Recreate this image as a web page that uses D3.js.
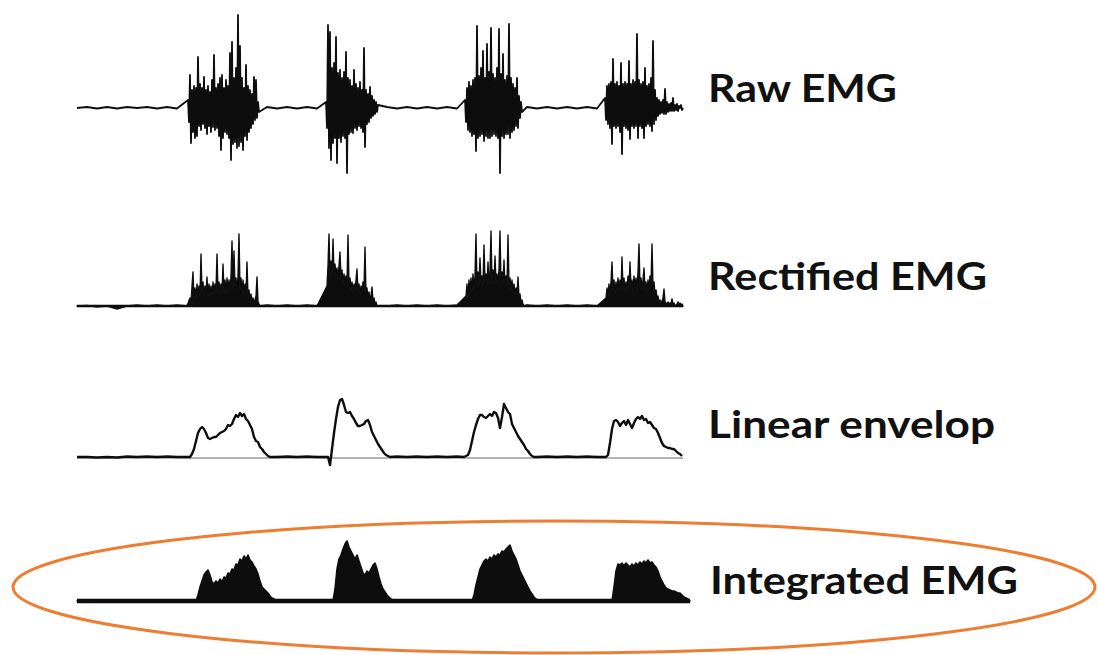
<!DOCTYPE html>
<html>
<head>
<meta charset="utf-8">
<script src="https://cdn.jsdelivr.net/npm/d3@7"></script>
<style>
  html, body { margin: 0; padding: 0; background: #fff; }
  svg { display: block; }
  .label { font-family: "Lato", "Open Sans", sans-serif; font-weight: 700; fill: #111; }
</style>
</head>
<body>
<svg id="chart" width="1098" height="655"></svg>
<script>
// ---------------------------------------------------------------
// EMG processing stages: raw, rectified, linear envelope, integrated.
// Time in ms, amplitude in µV.
// ---------------------------------------------------------------

const traceLabels = ["Raw EMG", "Rectified EMG", "Linear envelop", "Integrated EMG"];

const recordLength = 3030;   // ms
const quietStep = 50;        // ms between baseline samples
const rawStep = 5;           // ms between burst samples (raw / rectified)
const smoothStep = 10;       // ms between burst samples (envelope / integrated)

// --- Raw EMG ----------------------------------------------------
const rawOnsets = [555, 1245, 1940, 2640];
const rawQuiet = [0,10,-5,10,-5,10,0,10,-5,10,-5,5, 0,0,0,0,0,0,0,
  10,-5,10,-5,10,-5, 0,0,0,0,0,0, 10,-5,10,-5,10,-5,10,-5, 0,0,0,0,0,0,
  10,-5,10,-5,10,-5,10,-5, 0,0,0,0,0,0,0,0];
const rawBurst1 = [80,-140,330,-350,180,-240,220,-300,200,-280,510,-180,240,-220,200,-160,310,-200,180,-260,
  220,-180,160,-240,280,-190,530,-220,200,-200,240,-280,300,-420,330,-300,200,-240,280,-260,
  220,-300,550,-520,660,-360,300,-340,400,-400,930,-380,620,-340,300,-420,200,-280,430,-320,
  220,-240,180,-200,140,-160,310,-120,280,-100,60,-40];
const rawBurst2 = [60,-200,830,-400,760,-520,400,-350,450,-300,710,-550,350,-300,380,-340,300,-280,360,-300,
  560,-650,300,-260,280,-240,220,-250,380,-200,240,-220,200,-180,260,-200,180,-240,600,-390,
  180,-160,140,-140,210,-100,120,-80,80,-60,60,-40,30];
const rawBurst3 = [80,-140,200,-220,260,-240,220,-280,280,-260,300,-430,820,-300,320,-280,400,-260,570,-330,
  300,-280,640,-300,360,-300,800,-280,340,-260,300,-280,400,-300,790,-650,340,-280,540,-300,
  280,-260,320,-260,840,-300,300,-240,240,-220,200,-180,300,-200,120,-100,60,-40];
const rawBurst4 = [100,-120,220,-160,240,-200,260,-360,490,-180,240,-200,260,-180,220,-240,450,-460,240,-180,
  260,-200,240,-220,470,-310,240,-180,280,-200,260,-180,740,-300,280,-180,240,-200,260,-300,
  400,-180,220,-160,240,-180,300,-230,670,-160,180,-120,100,-80,80,-60,60,-50,80,-60,
  190,-60,60,-40,40,-30,50,-30,100,-30,30,-20,40,-30,20,0,30,-20,0];

// --- Rectified EMG ----------------------------------------------
const rectOnsets = [565, 1250, 1945, 2645];
const rectQuiet = [0,5,-10,0,-30,0,10,0,10,0,10,0, 0,0,0,0,0,0,0,
  10,0,10,0,10,0, 0,0,0,0,0,0, 0,10,0,10,0,10,0,10, 0,0,0,0,0,0,
  10,0,10,0,10,0,10,0, 0,0,0,0,0,0,0,0];
const rectBurst1 = [80,30,200,340,60,180,80,220,100,200, 90,520,120,240,100,200,120,290,80,220,
  120,200,100,240,120,220,140,520,120,240, 140,220,120,420,140,260,120,280,160,260,
  140,300,650,160,550,180,280,140,300,720, 160,280,140,260,120,220,100,440,80,160,
  60,120,40,80,30,60,100,290,40,20, 0];
const rectBurst2 = [200,400,720,300,450,280,670,320,420,300, 380,260,400,540,280,360,220,320,240,300,
  200,710,220,280,160,240,140,220,160,260, 370,140,220,120,200,140,240,160,590,120,
  180,80,140,60,100,190,40,80,20,40, 0];
const rectBurst3 = [100,220,80,260,120,280,140,320,160,300, 720,180,340,200,480,220,300,200,610,240,
  320,200,440,220,340,750,220,360,200,500, 240,320,220,360,750,240,340,220,460,200,
  300,180,710,200,280,160,260,140,220,120, 180,100,290,80,120,40,60,20,0];
const rectBurst4 = [80,180,100,220,120,240,440,140,260,120, 240,140,280,160,260,140,490,160,280,140,
  240,160,300,180,440,160,260,140,300,180, 280,160,340,620,180,280,160,260,380,160,
  240,140,260,160,300,200,620,180,240,120, 160,80,100,40,60,30,50,80,170,40,
  30,20,40,20,30,20,70,20,30,10, 0,20,40,20,30,10,20,0];

// --- Linear envelope --------------------------------------------
const envOnsets = [565, 1245, 1935, 2645];
const envQuiet = [0,0,-5,0,-5,5,0,5,0,5,0,0, 0,0,0,0,0,0,0,
  5,0,5,0,5,0, 0,0,0,0,0,0, 0,5,0,5,0,5,0,5, 0,0,0,0,0,0,
  5,0,5,0,5,0,5,0, 0,0,0,0,0,0,0,0];
const envBurst1 = [0,30,80,160,240,280,300,280,240,190,180,190,200,200,220,240,250,260,280,320,
  310,330,380,420,400,440,410,430,380,360,320,280,200,160,150,100,80,50,30,10,0];
const envBurst2 = [0,0,-80,80,240,380,500,570,580,520,450,440,450,410,380,340,310,310,320,330,
  360,370,320,250,210,170,130,100,70,40,20,10,0];
const envBurst3 = [0,10,20,70,160,250,320,380,420,420,400,390,410,430,410,450,440,390,290,400,
  530,490,450,430,330,290,250,210,180,150,120,80,60,30,10,0];
const envBurst4 = [0,20,140,280,360,370,350,310,340,360,320,370,330,290,340,380,400,380,410,370,
  380,340,350,320,290,280,240,190,140,110,100,90,90,80,80,60,40,30,10];

// --- Integrated EMG ---------------------------------------------
const intOnsets = [595, 1280, 1975, 2675];
const intQuiet = new Array(61).fill(0);
const intBurst1 = [0,60,140,200,260,290,310,260,190,170,200,180,220,190,240,230,280,270,320,310,
  370,360,420,400,450,420,460,410,390,350,320,270,200,140,120,100,80,50,30,20,10,0];
const intBurst2 = [0,120,320,420,460,520,570,600,540,500,460,420,460,400,340,280,260,300,280,320,
  360,380,320,240,170,120,90,60,40,20,10,0];
const intBurst3 = [0,60,160,240,320,360,400,420,400,440,420,460,440,470,460,500,490,520,540,560,
  500,460,420,360,300,260,220,180,140,100,70,40,20,10,0];
const intBurst4 = [0,140,300,370,360,380,350,380,360,340,370,350,380,360,390,370,400,380,410,380,
  390,360,340,300,240,200,160,130,120,110,100,100,90,80,80,60,40,30,20,0];

// ---------------------------------------------------------------
// Combine quiet baseline samples with burst samples into one series
function compose(quiet, onsets, bursts, step) {
  const spans = onsets.map((o, i) => [o, o + (bursts[i].length - 1) * step]);
  const pts = [];
  quiet.forEach((v, k) => {
    const t = k * quietStep;
    if (!spans.some(([a, b]) => t >= a - 10 && t <= b + 10)) pts.push([t, v]);
  });
  bursts.forEach((b, i) => b.forEach((v, j) => pts.push([onsets[i] + j * step, v])));
  return pts.sort((a, b) => a[0] - b[0]);
}

const rawSeries  = compose(rawQuiet,  rawOnsets,  [rawBurst1, rawBurst2, rawBurst3, rawBurst4], rawStep);
const rectSeries = compose(rectQuiet, rectOnsets, [rectBurst1, rectBurst2, rectBurst3, rectBurst4], rawStep);
const envSeries  = compose(envQuiet,  envOnsets,  [envBurst1, envBurst2, envBurst3, envBurst4], smoothStep);
const intSeries  = compose(intQuiet,  intOnsets,  [intBurst1, intBurst2, intBurst3, intBurst4], smoothStep);

// ---------------------------------------------------------------
const svg = d3.select("#chart");

// slight softening of the traces, as on a scanned chart recorder sheet
svg.append("defs").append("filter").attr("id", "soft")
  .append("feGaussianBlur").attr("stdDeviation", 0.45);

const x = d3.scaleLinear().domain([0, recordLength]).range([77, 683]);

// one amplitude scale per trace, centred on the trace's zero line
const yFor = base => d3.scaleLinear().domain([-1000, 1000]).range([base + 100, base - 100]);
const yRaw = yFor(108), yRect = yFor(306), yEnv = yFor(457), yInt = yFor(601);

const ink = "#111";
const traces = svg.append("g").attr("class", "traces").attr("filter", "url(#soft)");

// Raw EMG
traces.append("path")
  .datum(rawSeries)
  .attr("d", d3.line().x(d => x(d[0])).y(d => yRaw(d[1])))
  .attr("fill", "none").attr("stroke", ink).attr("stroke-width", 1.8)
  .attr("stroke-linejoin", "round");

// Rectified EMG (filled down to zero)
traces.append("path")
  .datum(rectSeries)
  .attr("d", d3.area().x(d => x(d[0])).y0(yRect(0)).y1(d => yRect(d[1])))
  .attr("fill", ink).attr("stroke", ink).attr("stroke-width", 1.4)
  .attr("stroke-linejoin", "round");
traces.append("line")
  .attr("x1", x(0)).attr("x2", x(recordLength))
  .attr("y1", yRect(0)).attr("y2", yRect(0))
  .attr("stroke", ink).attr("stroke-width", 2.4);

// Linear envelope with its zero reference
traces.append("line")
  .attr("x1", x(0)).attr("x2", x(recordLength))
  .attr("y1", yEnv(-10)).attr("y2", yEnv(-10))
  .attr("stroke", "#9a9a9a").attr("stroke-width", 1.5);
traces.append("path")
  .datum(envSeries)
  .attr("d", d3.line().x(d => x(d[0])).y(d => yEnv(d[1])))
  .attr("fill", "none").attr("stroke", ink).attr("stroke-width", 2.4)
  .attr("stroke-linejoin", "round");

// Integrated EMG
traces.append("path")
  .datum(intSeries)
  .attr("d", d3.area().x(d => x(d[0])).y0(yInt(0)).y1(d => yInt(d[1])))
  .attr("fill", ink).attr("stroke", ink).attr("stroke-width", 1.6)
  .attr("stroke-linejoin", "round");
traces.append("line")
  .attr("x1", x(0)).attr("x2", x(intSeries[intSeries.length - 1][0]))
  .attr("y1", yInt(0)).attr("y2", yInt(0))
  .attr("stroke", ink).attr("stroke-width", 4.5);

// Labels
const labelLayout = [
  { x: 708, y: 102, w: 189 },
  { x: 708, y: 290, w: 279 },
  { x: 708, y: 438, w: 287 },
  { x: 710, y: 594, w: 308 }
];
svg.append("g").selectAll("text")
  .data(traceLabels)
  .join("text")
  .attr("class", "label")
  .attr("x", (d, i) => labelLayout[i].x)
  .attr("y", (d, i) => labelLayout[i].y)
  .attr("font-size", 38)
  .attr("textLength", (d, i) => labelLayout[i].w)
  .attr("lengthAdjust", "spacingAndGlyphs")
  .text(d => d);

// Highlight ring around the integrated trace
svg.append("ellipse")
  .attr("cx", 554).attr("cy", 587).attr("rx", 541).attr("ry", 66)
  .attr("fill", "none").attr("stroke", "#ED7D31").attr("stroke-width", 3);
</script>
</body>
</html>
